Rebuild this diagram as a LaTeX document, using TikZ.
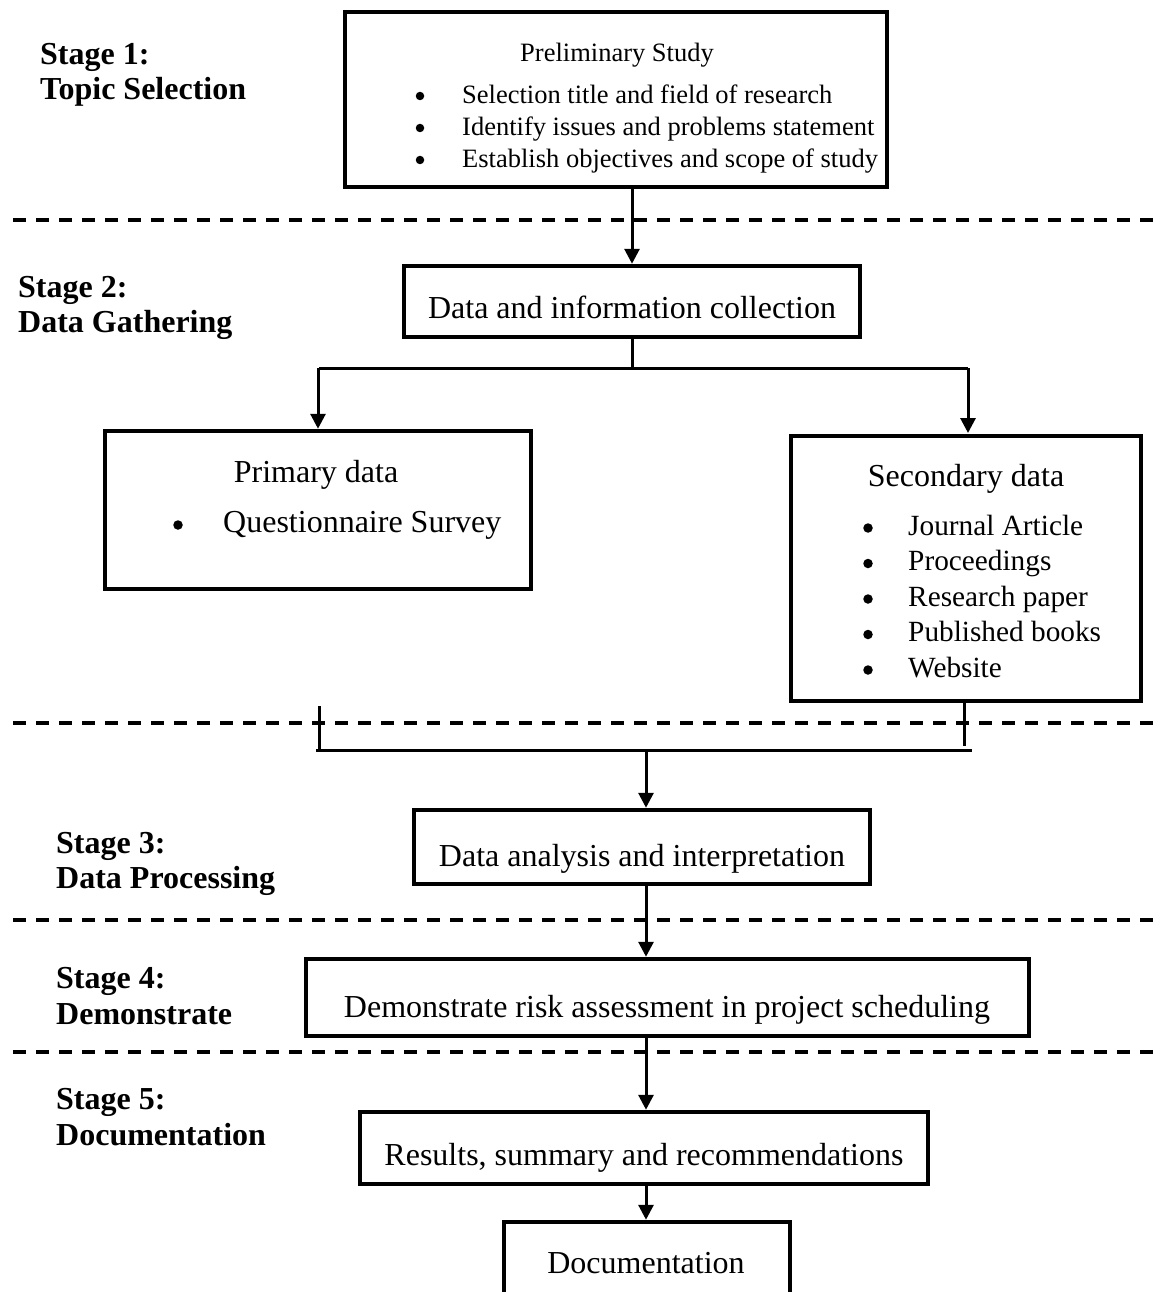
\documentclass[tikz,border=0pt]{standalone}
\usepackage{fontspec}
\setmainfont{Liberation Serif}
\usepackage{tikz}
\usetikzlibrary{arrows.meta, positioning, calc}

\begin{document}
\begin{tikzpicture}[x=1pt,y=-1pt,
	box/.style={draw,line width=4.5pt,inner sep=0pt},
	txt/.style={inner sep=0pt,yshift=-7pt,text height=0.68em,text depth=0.22em,font=\fontsize{32}{36}\selectfont},
	small/.style={txt,font=\fontsize{26.5}{30}\selectfont},
	mid/.style={txt,font=\fontsize{29.3}{33}\selectfont},
	dot/.style={circle,fill,inner sep=0pt,minimum size=9.5pt},
	stage/.style={inner sep=0pt,yshift=-3pt,anchor=west,align=left,font=\fontsize{32}{35.5}\selectfont\bfseries},
	arr/.style={line width=3pt,-{Triangle[length=15pt,width=15pt]}},
	ln/.style={line width=3pt},
	sep/.style={line width=3.5pt,dash pattern=on 13pt off 10pt}]
\useasboundingbox (0,0) rectangle (1159,1292);
% stage separators
\foreach \y in {220,723,920,1052}{
	\draw[sep] (13,\y) -- (1159,\y);
}
% stage labels
\node[stage] (s1) at (40,72) {Stage 1:\\Topic Selection};
\node[stage] (s2) at (18,305) {Stage 2:\\Data Gathering};
\node[stage] (s3) at (56,861) {Stage 3:\\Data Processing};
\node[stage] (s4) at (56,993) {Stage 4:\\Demonstrate};
\node[stage] (s5) at (56,1114) {Stage 5:\\Documentation};
% boxes
\node[box,minimum width=542,minimum height=175] (prelim) at (616,99.5) {};
\node[box,minimum width=456,minimum height=71] (collect) at (632,301.5) {};
\node[box,minimum width=426,minimum height=158] (primary) at (318,510) {};
\node[box,minimum width=350,minimum height=265] (secondary) at (966,568.5) {};
\node[box,minimum width=456,minimum height=74] (analysis) at (642,847) {};
\node[box,minimum width=723,minimum height=77] (demo) at (667.5,997.5) {};
\node[box,minimum width=568,minimum height=72] (results) at (644,1148) {};
\node[box,minimum width=286,minimum height=106] (docu) at (647,1275) {};
% texts
\node[small] (prelimT) at (617,52) {Preliminary Study};
\foreach \t [count=\i] in {Selection title and field of research,Identify issues and problems statement,Establish objectives and scope of study}{
	\node[dot,minimum size=8.5pt] (pb\i) at (420,64+32*\i) {};
	\node[small,anchor=west] (pt\i) at (462,62+32*\i) {\t};
}
\node[txt] (collectT) at (632,309) {Data and information collection};
\node[txt] (primT) at (316,473) {Primary data};
\node[dot] (qb) at (178,525) {};
\node[txt,anchor=west] (qt) at (223,523) {Questionnaire Survey};
\node[txt] (secT) at (966,477) {Secondary data};
\foreach \t [count=\i] in {Journal Article,Proceedings,Research paper,Published books,Website}{
	\node[dot] (sb\i) at (868,492.5+35.5*\i) {};
	\node[mid,anchor=west] (st\i) at (908,490.5+35.5*\i) {\t};
}
\node[txt] (anaT) at (642,857) {Data analysis and interpretation};
\node[txt] (demoT) at (667,1008) {Demonstrate risk assessment in project scheduling};
\node[txt] (resT) at (644,1156) {Results, summary and recommendations};
\node[txt] (docuT) at (646,1264) {Documentation};
% connectors
\coordinate (split) at (632,368);
\coordinate (merge) at (646,750);
\coordinate (tickL) at (319,706);
\coordinate (tickR) at (964,746);
\draw[arr] (prelim.south -| collect.north) -- (collect.north);
\draw[ln] (collect.south) -- (split);
\draw[ln] (319,368) -- (968,368);
\draw[arr] (split -| primary.north) -- (primary.north);
\draw[arr] (968,368) -- (968,433);
\draw[ln] (tickL) -- (tickL |- merge);
\draw[ln] (secondary.south -| tickR) -- (tickR);
\draw[ln] (316,750) -- (972,750);
\draw[arr] (merge) -- (analysis.north -| merge);
\draw[arr] (analysis.south -| merge) -- (demo.north -| merge);
\draw[arr] (demo.south -| merge) -- (results.north -| merge);
\draw[arr] (results.south -| merge) -- (docu.north -| merge);
\end{tikzpicture}
\end{document}
